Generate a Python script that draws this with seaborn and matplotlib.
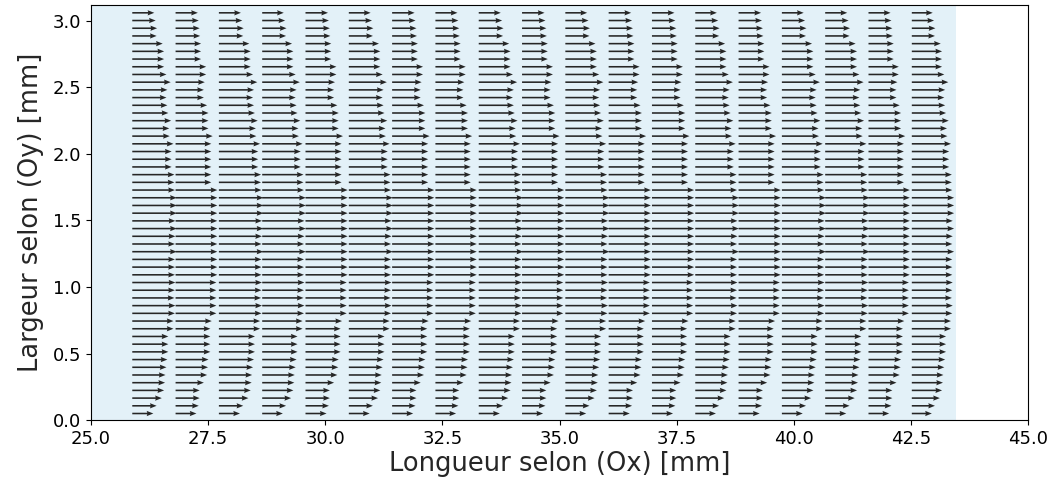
import numpy as np
import matplotlib
matplotlib.use("Agg")
import matplotlib.pyplot as plt
import seaborn as sns

# Profils de vitesse (composante selon Ox), lus du haut vers le bas, 53 lignes
profil_a = [0.47, 0.50, 0.53, 0.52, 0.65, 0.68, 0.68, 0.68, 0.73, 0.82, 0.75, 0.73, 0.75, 0.77, 0.83, 0.79, 0.80, 0.88,
            0.84, 0.84, 0.84, 0.90, 0.90, 0.91, 0.95, 0.95, 0.95, 0.92, 0.95, 0.92, 0.91, 0.95, 0.91, 0.91, 0.91,
            0.92, 0.91, 0.90, 0.92, 0.91, 0.88, 0.88, 0.77, 0.77, 0.77, 0.75, 0.73, 0.71, 0.70, 0.68, 0.63, 0.52, 0.45]
profil_b = [0.48, 0.50, 0.52, 0.53, 0.55, 0.55, 0.55, 0.66, 0.66, 0.63, 0.61, 0.61, 0.68, 0.71, 0.71, 0.71, 0.80, 0.77,
            0.77, 0.77, 0.77, 0.77, 0.77, 0.90, 0.90, 0.90, 0.90, 0.90, 0.90, 0.90, 0.90, 0.90, 0.90, 0.90, 0.90,
            0.88, 0.88, 0.88, 0.88, 0.88, 0.78, 0.75, 0.75, 0.75, 0.75, 0.71, 0.70, 0.68, 0.61, 0.52, 0.52, 0.50, 0.45]

# Quel profil pour chaque colonne, et facteur d'echelle par colonne
profil_colonne = ["a", "b", "a", "a", "b", "a", "b", "b", "a", "b", "a", "b", "b", "a", "b", "a", "a", "b", "a"]
facteur_colonne = [1.00, 0.99, 1.00, 0.98, 1.00, 0.99, 1.00, 0.98, 1.00, 1.00,
                   0.99, 1.00, 1.00, 0.98, 1.00, 0.99, 1.00, 0.98, 0.95]

# Grille de mesure [mm]
x_colonnes = np.linspace(25.88, 42.52, 19)
y_lignes = np.linspace(3.06, 0.05, 53)

profils = {"a": profil_a, "b": profil_b}
U = np.array([np.array(profils[p]) * f for p, f in zip(profil_colonne, facteur_colonne)]).T
V = np.zeros_like(U)
X, Y = np.meshgrid(x_colonnes, y_lignes)

sns.set_style("ticks")
plt.rcParams['font.family'] = ['DejaVu Sans']

fig = plt.figure(figsize=(10.55, 4.88), dpi=100)
ax = fig.add_axes([0.0863, 0.139, 0.8881, 0.850])

# Zone de mesure en fond
ax.axvspan(25.0, 43.46, color='#e3f1f8', zorder=0, lw=0)

ax.quiver(X, Y, U, V, angles='xy', scale_units='xy', scale=1, pivot='tail',
          color='#262626', width=0.0017, headwidth=3.3, headlength=4.2,
          headaxislength=3.8, zorder=2)

ax.set_xlim(25, 45)
ax.set_ylim(0, 3.116)
ax.set_xticks(np.arange(25, 45.1, 2.5))
ax.set_yticks(np.arange(0, 3.01, 0.5))
ax.tick_params(labelsize=13, colors='black')
ax.set_xlabel("Longueur selon (Ox) [mm]", fontsize=18.5, labelpad=2)
ax.set_ylabel("Largeur selon (Oy) [mm]", fontsize=18.5, labelpad=6)
for s in ax.spines.values():
    s.set_color('black')

fig.savefig("out.png", dpi=100)
